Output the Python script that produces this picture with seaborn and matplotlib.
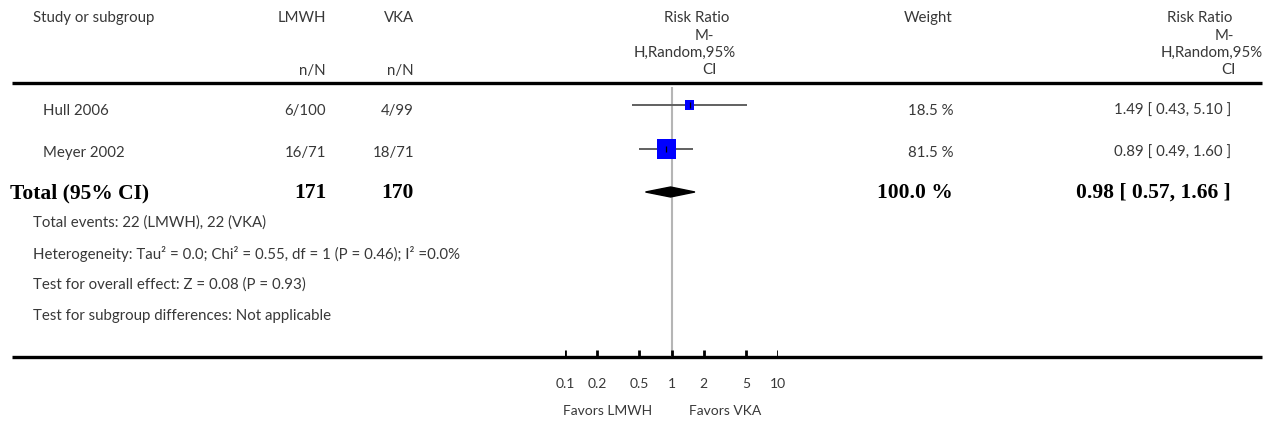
import numpy as np
import pandas as pd
import matplotlib
matplotlib.use("Agg")
import matplotlib.pyplot as plt
import seaborn as sns
from matplotlib.patches import Polygon

# data
studies = ['Hull 2006', 'Meyer 2002']
lmwh_events = ['6/100', '16/71']
vka_events = ['4/99', '18/71']
rr = [1.49, 0.89]
ci_low = [0.43, 0.49]
ci_high = [5.10, 1.60]
weights = [18.5, 81.5]

total_lmwh = 171
total_vka = 170
total_rr = 0.98
total_low = 0.57
total_high = 1.66
total_weight = 100.0

footnotes = [
    'Total events: 22 (LMWH), 22 (VKA)',
    'Heterogeneity: Tau\u00b2 = 0.0; Chi\u00b2 = 0.55, df = 1 (P = 0.46); I\u00b2 =0.0%',
    'Test for overall effect: Z = 0.08 (P = 0.93)',
    'Test for subgroup differences: Not applicable',
]
scale_ticks = [0.1, 0.2, 0.5, 1, 2, 5, 10]
scale_labels = ['0.1', '0.2', '0.5', '1', '2', '5', '10']

df = pd.DataFrame({'study': studies, 'rr': rr, 'low': ci_low, 'high': ci_high, 'weight': weights})

# layout (pixel rows)
row_text_y = [111, 153]
row_mark_y = [105, 149]
total_text_y = 193
total_mark_y = 192
foot_y = [223, 254, 285, 316]

sns.set_style('white')
plt.rcParams['font.family'] = ['Lato', 'DejaVu Sans']
txt = '#383838'
fs = 10.8
bold = dict(family='Liberation Serif', fontweight='bold', fontsize=15.5, color='black')

fig = plt.figure(figsize=(12.72, 4.26), dpi=100)
tax = fig.add_axes([0, 0, 1, 1])
tax.set_xlim(0, 1272)
tax.set_ylim(426, 0)
tax.axis('off')

# header
tax.text(33, 18, 'Study or subgroup', ha='left', va='center', fontsize=fs, color=txt)
tax.text(326, 18, 'LMWH', ha='right', va='center', fontsize=fs, color=txt)
tax.text(414, 18, 'VKA', ha='right', va='center', fontsize=fs, color=txt)
tax.text(326, 71, 'n/N', ha='right', va='center', fontsize=fs, color=txt)
tax.text(414, 71, 'n/N', ha='right', va='center', fontsize=fs, color=txt)
hdr_lines = ['Risk Ratio', 'M-', 'H,Random,95%', 'CI']
hdr_y = [18, 36, 53, 70]
mid_x = [697, 704, 685, 709]
right_x = [1200, 1224, 1212, 1228]
for s, y, x1, x2 in zip(hdr_lines, hdr_y, mid_x, right_x):
    tax.text(x1, y, s, ha='center', va='center', fontsize=fs, color=txt)
    tax.text(x2, y, s, ha='center', va='center', fontsize=fs, color=txt)
tax.text(953, 18, 'Weight', ha='right', va='center', fontsize=fs, color=txt)

tax.hlines(83, 12, 1262, color='black', lw=2.4)
tax.hlines(357, 12, 1262, color='black', lw=2.4)

# study rows
for i in range(len(studies)):
    y = row_text_y[i]
    tax.text(43, y, studies[i], ha='left', va='center', fontsize=fs, color=txt)
    tax.text(326, y, lmwh_events[i], ha='right', va='center', fontsize=fs, color=txt)
    tax.text(414, y, vka_events[i], ha='right', va='center', fontsize=fs, color=txt)
    tax.text(953, y, f'{weights[i]:.1f} %', ha='right', va='center', fontsize=fs, color=txt)
    tax.text(1231, y, f'{rr[i]:.2f} [ {ci_low[i]:.2f}, {ci_high[i]:.2f} ]',
             ha='right', va='center', fontsize=fs, color=txt)

# total row
tax.text(10, total_text_y, 'Total (95% CI)', ha='left', va='center', **bold)
tax.text(326, total_text_y, str(total_lmwh), ha='right', va='center', **bold)
tax.text(414, total_text_y, str(total_vka), ha='right', va='center', **bold)
tax.text(953, total_text_y, f'{total_weight:.1f} %', ha='right', va='center', **bold)
tax.text(1231, total_text_y, f'{total_rr:.2f} [ {total_low:.2f}, {total_high:.2f} ]',
         ha='right', va='center', **bold)

for s, y in zip(footnotes, foot_y):
    tax.text(33, y, s, ha='left', va='center', fontsize=fs, color=txt)

# forest panel on log scale
fax = fig.add_axes([565 / 1272, 0, (778 - 565) / 1272, 1])
fax.set_xscale('log')
df['y'] = row_mark_y
fax.vlines(1, 87, 357, color='#b5b5b5', lw=1.5, zorder=0)
fax.hlines(df['y'], df['low'], df['high'], color='#606060', lw=1.4, zorder=1)
sns.scatterplot(data=df, x='rr', y='y', size='weight', sizes=(42, 190), marker='s',
                color='#0000ff', edgecolor='none', linewidth=0, legend=False, ax=fax, zorder=2)
fax.vlines(df['rr'], df['y'] - 3, df['y'] + 3, color='black', lw=0.9, zorder=3)
diamond = Polygon([[total_low, total_mark_y], [total_rr, total_mark_y - 5],
                   [total_high, total_mark_y], [total_rr, total_mark_y + 5]],
                  closed=True, color='black', zorder=3)
fax.add_patch(diamond)
fax.vlines(scale_ticks, 350, 357, color='black', lw=2)
for t, lab in zip(scale_ticks, scale_labels):
    fax.text(t, 384, lab, ha='center', va='center', fontsize=10, color=txt)
fax.set_xlim(0.1, 10)
fax.set_ylim(426, 0)
fax.axis('off')

tax.text(608, 411, 'Favors LMWH', ha='center', va='center', fontsize=10, color=txt)
tax.text(725, 411, 'Favors VKA', ha='center', va='center', fontsize=10, color=txt)

fig.savefig('out.png', dpi=100)
